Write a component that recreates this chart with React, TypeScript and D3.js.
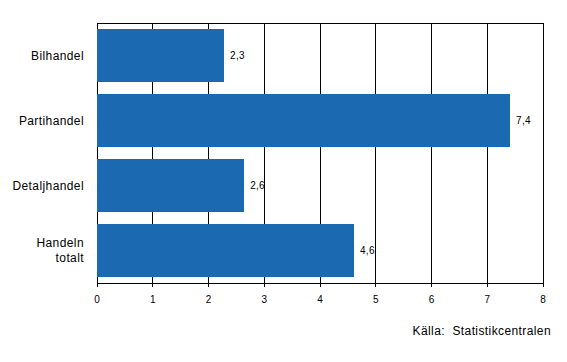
import React from "react";
import * as d3 from "d3";

const categories = ["Bilhandel", "Partihandel", "Detaljhandel", "Handeln totalt"];
const categoryLines = [["Bilhandel"], ["Partihandel"], ["Detaljhandel"], ["Handeln", "totalt"]];
const values = [2.28, 7.41, 2.64, 4.61];
const valueLabels = ["2,3", "7,4", "2,6", "4,6"];
const xTicks = [0, 1, 2, 3, 4, 5, 6, 7, 8];
const source = "Källa:  Statistikcentralen";

const W = 567;
const H = 362;
const left = 97;
const right = 543;
const top = 23;
const bottom = 283;
const font = "Arial, 'Liberation Sans', sans-serif";
const barColor = "#1a69b1";

export default function App() {
  const x = d3.scaleLinear().domain([0, 8]).range([left, right]);
  const y = d3.scaleBand<string>().domain(categories).range([top, bottom]).paddingInner(0.17).paddingOuter(0.085);

  return (
    <svg width={W} height={H} style={{ position: "absolute", left: 0, top: 0 }}>
      <rect x={0} y={0} width={W} height={H} fill="#fff" />
      {xTicks.map((t) => (
        <line key={"g" + t} x1={x(t)} x2={x(t)} y1={top} y2={bottom + 4} stroke="#000" strokeWidth={1} shapeRendering="crispEdges" />
      ))}
      <line x1={left} x2={right} y1={top} y2={top} stroke="#000" shapeRendering="crispEdges" />
      <line x1={left} x2={right} y1={bottom} y2={bottom} stroke="#000" shapeRendering="crispEdges" />
      {categories.map((c, i) => (
        <rect key={c} x={x(0)} y={y(c)} width={x(values[i]) - x(0)} height={y.bandwidth()} fill={barColor} shapeRendering="crispEdges" />
      ))}
      {categories.map((c, i) => (
        <text key={"v" + c} x={x(values[i]) + 6} y={(y(c) as number) + y.bandwidth() / 2 + 3.5} fontFamily={font} fontSize={10} letterSpacing={0.3} fill="#000">
          {valueLabels[i]}
        </text>
      ))}
      {categories.map((c, i) => {
        const lines = categoryLines[i];
        const cy = (y(c) as number) + y.bandwidth() / 2;
        const lh = 15;
        const y0 = cy - ((lines.length - 1) * lh) / 2 + 4;
        return (
          <text key={"c" + c} x={84} textAnchor="end" fontFamily={font} fontSize={12} letterSpacing={0.4} fill="#000">
            {lines.map((l, j) => (
              <tspan key={j} x={84} y={y0 + j * lh}>{l}</tspan>
            ))}
          </text>
        );
      })}
      {xTicks.map((t) => (
        <text key={"t" + t} x={x(t)} y={303} textAnchor="middle" fontFamily={font} fontSize={10} fill="#000">
          {t}
        </text>
      ))}
      <text x={551} y={335} textAnchor="end" fontFamily={font} fontSize={12} letterSpacing={0.4} fill="#000" style={{ whiteSpace: "pre" }}>
        {source}
      </text>
    </svg>
  );
}
